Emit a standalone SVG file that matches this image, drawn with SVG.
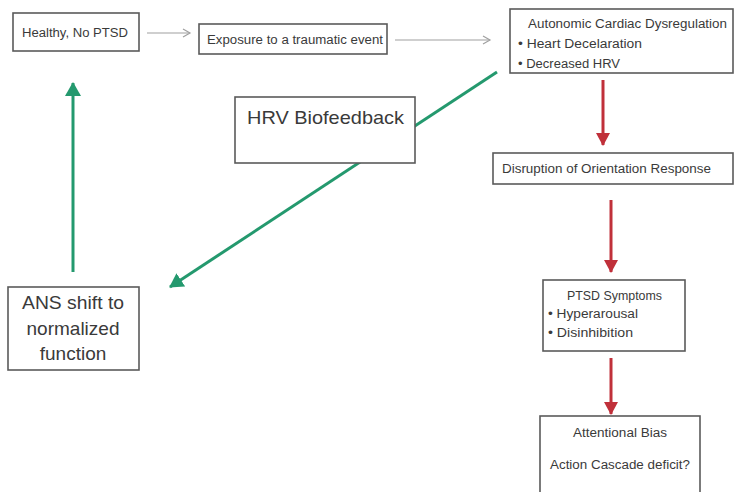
<svg xmlns="http://www.w3.org/2000/svg" width="734" height="492" viewBox="0 0 734 492">
<defs>
<style>
.box{fill:#fff;stroke:#5a5a5a;stroke-width:1.6}
.t{font-family:"Liberation Sans",Arial,sans-serif;fill:#3a3a3a}
.s{font-size:12.5px}
.b{font-size:19px}
.g{stroke:#a0a0a0;stroke-width:1.2;fill:none}
.r{stroke:#c0303a;stroke-width:3;fill:none}
.gr{stroke:#24996e;stroke-width:3;fill:none}
</style>
<marker id="ag" markerWidth="10" markerHeight="10" refX="8" refY="5" orient="auto" markerUnits="userSpaceOnUse">
<path d="M1,1 L8,5 L1,9" fill="none" stroke="#a0a0a0" stroke-width="1.2"/>
</marker>
<marker id="ar" markerWidth="14" markerHeight="14" refX="12" refY="7" orient="auto" markerUnits="userSpaceOnUse">
<path d="M0,0 L13,7 L0,14 Z" fill="#c0303a"/>
</marker>
<marker id="agr" markerWidth="16" markerHeight="16" refX="13" refY="8" orient="auto" markerUnits="userSpaceOnUse">
<path d="M0,0 L14,8 L0,16 Z" fill="#24996e"/>
</marker>
</defs>
<rect width="734" height="492" fill="#fff"/>
<g id="connectors">
<line class="g" x1="147" y1="33" x2="190" y2="33" marker-end="url(#ag)"/>
<line class="g" x1="395" y1="40" x2="490" y2="40" marker-end="url(#ag)"/>
<line class="r" x1="603" y1="80" x2="603" y2="145" marker-end="url(#ar)"/>
<line class="r" x1="611" y1="200" x2="611" y2="272" marker-end="url(#ar)"/>
<line class="r" x1="611" y1="358" x2="611" y2="414" marker-end="url(#ar)"/>
<line class="gr" x1="497" y1="72" x2="170" y2="287" marker-end="url(#agr)"/>
<line class="gr" x1="73" y1="272" x2="73" y2="83" marker-end="url(#agr)"/>
</g>
<g id="healthy">
<rect class="box" x="13" y="13" width="126" height="38"/>
<text class="t s" x="22" y="37" textLength="106" lengthAdjust="spacingAndGlyphs">Healthy, No PTSD</text>
</g>
<g id="exposure">
<rect class="box" x="199" y="24" width="188" height="30"/>
<text class="t s" x="207" y="44" textLength="176" lengthAdjust="spacingAndGlyphs">Exposure to  a traumatic event</text>
</g>
<g id="autonomic">
<rect class="box" x="510" y="9" width="223" height="64"/>
<text class="t s" x="528" y="28" textLength="199" lengthAdjust="spacingAndGlyphs">Autonomic Cardiac Dysregulation</text>
<text class="t s" x="518" y="48" textLength="124" lengthAdjust="spacingAndGlyphs">• Heart Decelaration</text>
<text class="t s" x="518" y="68" textLength="102" lengthAdjust="spacingAndGlyphs">• Decreased HRV</text>
</g>
<g id="biofeedback">
<rect class="box" x="235" y="97" width="180" height="66"/>
<text class="t b" x="247" y="124" textLength="157" lengthAdjust="spacingAndGlyphs">HRV Biofeedback</text>
</g>
<g id="disruption">
<rect class="box" x="493" y="153" width="240" height="31"/>
<text class="t s" x="502" y="173" textLength="209" lengthAdjust="spacingAndGlyphs">Disruption of Orientation Response</text>
</g>
<g id="ptsd">
<rect class="box" x="543" y="280" width="142" height="71"/>
<text class="t s" x="567" y="300" textLength="95" lengthAdjust="spacingAndGlyphs">PTSD Symptoms</text>
<text class="t s" x="548" y="318" textLength="90" lengthAdjust="spacingAndGlyphs">• Hyperarousal</text>
<text class="t s" x="548" y="337" textLength="85" lengthAdjust="spacingAndGlyphs">• Disinhibition</text>
</g>
<g id="attentional">
<rect class="box" x="540" y="416" width="160" height="80"/>
<text class="t s" x="573" y="437" textLength="94" lengthAdjust="spacingAndGlyphs">Attentional Bias</text>
<text class="t s" x="550" y="469" textLength="140" lengthAdjust="spacingAndGlyphs">Action Cascade deficit?</text>
</g>
<g id="ans">
<rect class="box" x="8" y="287" width="131" height="83"/>
<text class="t b" x="73" y="309" text-anchor="middle" textLength="102" lengthAdjust="spacingAndGlyphs">ANS shift to</text>
<text class="t b" x="73" y="335" text-anchor="middle">normalized</text>
<text class="t b" x="73" y="360" text-anchor="middle">function</text>
</g>
</svg>
